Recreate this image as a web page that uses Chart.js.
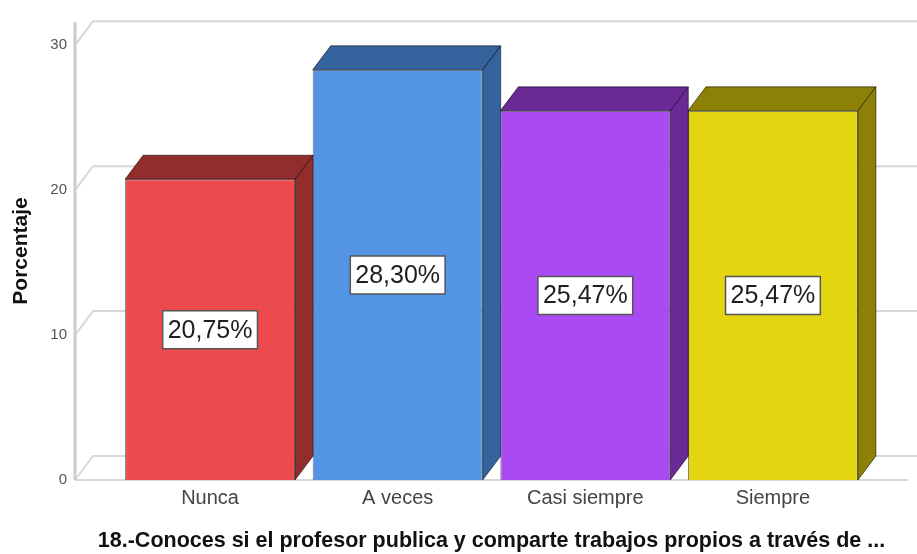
<!DOCTYPE html>
<html>
<head>
<meta charset="utf-8">
<title>Porcentaje</title>
<script src="https://cdn.jsdelivr.net/npm/chart.js@4.4.1/dist/chart.umd.min.js"></script>
<style>
  html, body { margin: 0; padding: 0; background: #fff; }
  #wrap { width: 917px; height: 554px; position: relative; }
</style>
</head>
<body>
<div id="wrap"><canvas id="chart"></canvas></div>
<script>
// Data
const categories = ['Nunca', 'A veces', 'Casi siempre', 'Siempre'];
const percentages = [20.75, 28.30, 25.47, 25.47];
const yTicks = [0, 10, 20, 30];

// Style
const frontColors = ['#ec4a4c', '#5494e4', '#a94af2', '#e3d510'];
const shadeColors = ['#922d2e', '#35639e', '#692a96', '#8c8106'];
const depthX = 18;
const depthY = -24;
const gridColor = '#d8d8d8';
const family = '"Liberation Sans", Arial, sans-serif';

// Back wall, floor and diagonal grid lines
const wallPlugin = {
    id: 'wall',
    beforeDatasetsDraw(chart) {
        const { ctx, chartArea: area, scales: { y } } = chart;
        ctx.save();
        ctx.strokeStyle = gridColor;
        ctx.lineWidth = 2;
        yTicks.forEach(v => {
            const py = y.getPixelForValue(v);
            ctx.beginPath();
            ctx.moveTo(area.left, py);
            ctx.lineTo(area.left + depthX, py + depthY);
            ctx.lineTo(area.right + depthX, py + depthY);
            ctx.stroke();
        });
        ctx.beginPath();
        ctx.moveTo(area.right, area.bottom);
        ctx.lineTo(area.left, area.bottom);
        ctx.stroke();
        ctx.strokeStyle = '#cccccc';
        ctx.lineWidth = 3;
        ctx.beginPath();
        ctx.moveTo(area.left, area.top);
        ctx.lineTo(area.left, area.bottom);
        ctx.stroke();
        ctx.restore();
    }
};

// Top and side faces of the bars + value boxes
const boxPlugin = {
    id: 'box3d',
    afterDatasetsDraw(chart) {
        const ctx = chart.ctx;
        const meta = chart.getDatasetMeta(0);
        ctx.save();
        ctx.lineJoin = 'round';
        meta.data.forEach((bar, i) => {
            const { x, y, base, width } = bar.getProps(['x', 'y', 'base', 'width'], true);
            const l = x - width / 2;
            const r = x + width / 2;
            ctx.fillStyle = shadeColors[i];
            ctx.strokeStyle = 'rgba(0,0,0,0.55)';
            ctx.lineWidth = 1;

            ctx.beginPath();
            ctx.moveTo(l, y);
            ctx.lineTo(l + depthX, y + depthY);
            ctx.lineTo(r + depthX, y + depthY);
            ctx.lineTo(r, y);
            ctx.closePath();
            ctx.fill();
            ctx.stroke();

            ctx.beginPath();
            ctx.moveTo(r, y);
            ctx.lineTo(r + depthX, y + depthY);
            ctx.lineTo(r + depthX, base + depthY);
            ctx.lineTo(r, base);
            ctx.closePath();
            ctx.fill();
            ctx.stroke();
        });

        ctx.font = '25px ' + family;
        ctx.textAlign = 'center';
        ctx.textBaseline = 'middle';
        meta.data.forEach((bar, i) => {
            const { x, y, base } = bar.getProps(['x', 'y', 'base'], true);
            const text = percentages[i].toFixed(2).replace('.', ',') + '%';
            const cy = (y + base) / 2;
            const w = ctx.measureText(text).width + 10;
            const h = 38;
            ctx.fillStyle = '#ffffff';
            ctx.fillRect(x - w / 2, cy - h / 2, w, h);
            ctx.strokeStyle = '#555555';
            ctx.lineWidth = 1.5;
            ctx.strokeRect(x - w / 2, cy - h / 2, w, h);
            ctx.fillStyle = '#1e1e1e';
            ctx.fillText(text, x, cy + 1);
        });
        ctx.restore();
    }
};

new Chart(document.getElementById('chart'), {
    type: 'bar',
    data: {
        datasets: [{
            data: percentages.map((v, i) => ({ x: i, y: v })),
            backgroundColor: frontColors,
            borderColor: 'rgba(0,0,0,0.55)',
            borderWidth: 1,
            categoryPercentage: 1,
            barPercentage: 0.906
        }]
    },
    options: {
        responsive: true,
        maintainAspectRatio: false,
        animation: false,
        layout: { padding: { top: 22, right: 9, left: 0, bottom: 0 } },
        plugins: {
            legend: { display: false },
            tooltip: { enabled: false }
        },
        scales: {
            x: {
                type: 'linear',
                min: -0.72,
                max: 3.72,
                offset: false,
                afterBuildTicks: s => { s.ticks = categories.map((c, i) => ({ value: i })); },
                afterFit: s => { s.height = 74; },
                grid: { display: false, drawTicks: false },
                border: { display: false },
                ticks: {
                    callback: v => categories[v],
                    color: '#444444',
                    font: { family: family, size: 20 },
                    padding: 6,
                    maxRotation: 0,
                    autoSkip: false
                },
                title: {
                    display: true,
                    text: '18.-Conoces si el profesor publica y comparte trabajos propios a través de ...',
                    color: '#111111',
                    font: { family: family, size: 21.5, weight: 'bold' },
                    padding: { top: 0, bottom: 0 }
                }
            },
            y: {
                min: 0,
                max: 31.6,
                afterBuildTicks: s => { s.ticks = yTicks.map(v => ({ value: v })); },
                afterFit: s => { s.width = 75; },
                grid: { display: false, drawTicks: false },
                border: { display: false },
                ticks: {
                    color: '#555555',
                    font: { family: family, size: 15 },
                    padding: 8
                },
                title: {
                    display: true,
                    text: 'Porcentaje',
                    color: '#111111',
                    font: { family: family, size: 21, weight: 'bold' },
                    padding: { top: 9, bottom: 0 }
                }
            }
        }
    },
    plugins: [wallPlugin, boxPlugin]
});
</script>
</body>
</html>
